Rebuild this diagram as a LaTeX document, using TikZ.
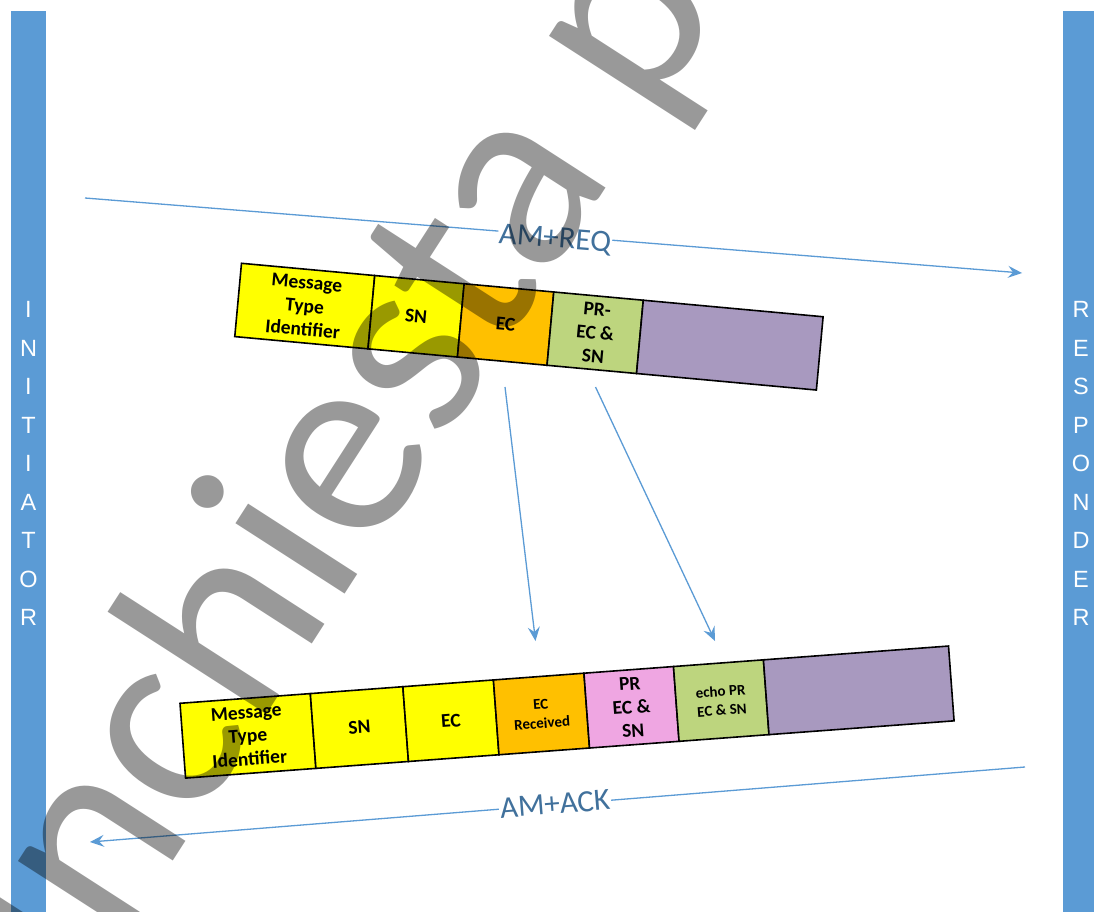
\documentclass[tikz,border=0pt]{standalone}
\usepackage{fontspec}
\setmainfont{Carlito}
\newfontfamily\sidefont{Liberation Sans}
\usetikzlibrary{arrows.meta}
\definecolor{barblue}{HTML}{5B9BD5}
\definecolor{lblblue}{HTML}{41719C}
\definecolor{cyellow}{HTML}{FFFF00}
\definecolor{corange}{HTML}{FFC000}
\definecolor{cgreen}{HTML}{BDD57E}
\definecolor{cpink}{HTML}{EFA6E2}
\definecolor{cpurple}{HTML}{A899BF}
\tikzset{
  cell/.style={draw=black, line width=1.6pt, inner sep=0pt, outer sep=0pt, anchor=north west, align=center,
    font=\bfseries\fontsize{19.5}{23.5}\selectfont},
  smallcell/.style={cell, font=\bfseries\fontsize{15}{19}\selectfont},
  bar/.style={fill=barblue, draw=none, inner sep=0pt, outer sep=0pt, anchor=north west},
  sidelbl/.style={text=white, align=center, inner sep=0pt, font=\sidefont\fontsize{23.5}{38.5}\selectfont},
  conn/.style={draw=barblue, line width=1.3pt, -{Stealth[length=14pt,width=12pt,inset=5pt]}},
  msglbl/.style={fill=white, inner xsep=1pt, inner ysep=0pt, text=lblblue, font=\fontsize{31}{36}\selectfont},
  wmark/.style={anchor=base west, inner sep=0pt, text=black, text opacity=0.4, font=\fontsize{272}{272}\selectfont}
}
\begin{document}
\begin{tikzpicture}[x=1pt,y=-1pt]
\useasboundingbox (0,0) rectangle (1094,912);
\fill[white] (0,0) rectangle (1094,912);

% lifelines
\node[bar, minimum width=35pt, minimum height=901pt] (initbar) at (11,11) {};
\node[bar, minimum width=31pt, minimum height=901pt] (respbar) at (1063,11) {};
\node[sidelbl] (initlbl) at (28.5,463.5) {I\\N\\I\\T\\I\\A\\T\\O\\R};
\node[sidelbl] (resplbl) at (1081,463.5) {R\\E\\S\\P\\O\\N\\D\\E\\R};

% request message
\coordinate (reqS) at (85,198);
\coordinate (reqE) at (1022,273);
\draw[conn] (reqS) -- (reqE);
\node[msglbl, rotate=-4.58] (req) at (555,239.5) {AM+REQ};

\begin{scope}[shift={(241.5,263.3)}, rotate=-5.25, transform shape]
  \node[cell, fill=cyellow, minimum width=133.8pt, minimum height=73.6pt] (q1) at (0,0) {Message\\Type\\Identifier};
  \node[cell, fill=cyellow, minimum width=89.8pt, minimum height=73.6pt] (q2) at (q1.north east) {SN};
  \node[cell, fill=corange, minimum width=90pt, minimum height=73.6pt] (q3) at (q2.north east) {EC};
  \node[cell, fill=cgreen, minimum width=89.9pt, minimum height=73.6pt] (q4) at (q3.north east) {PR-\\EC \&\\SN};
  \node[cell, fill=cpurple, minimum width=180.6pt, minimum height=73.6pt] (q5) at (q4.north east) {};
\end{scope}

% copy arrows
\coordinate (d1s) at (505,387);
\coordinate (d1e) at (535.5,641);
\coordinate (d2s) at (595.5,387);
\coordinate (d2e) at (715,641);
\draw[conn] (d1s) -- (d1e);
\draw[conn] (d2s) -- (d2e);

% acknowledgement message
\begin{scope}[shift={(180,703.3)}, rotate=4.26, transform shape]
  \node[cell, fill=cyellow, minimum width=130.7pt, minimum height=75pt] (a1) at (0,0) {Message\\Type\\Identifier};
  \node[cell, fill=cyellow, minimum width=92.8pt, minimum height=75pt] (a2) at (a1.north east) {SN};
  \node[cell, fill=cyellow, minimum width=90.8pt, minimum height=75pt] (a3) at (a2.north east) {EC};
  \node[smallcell, fill=corange, minimum width=90.8pt, minimum height=75pt] (a4) at (a3.north east) {EC\\Received};
  \node[cell, fill=cpink, minimum width=89.8pt, minimum height=75pt] (a5) at (a4.north east) {PR\\EC \&\\SN};
  \node[smallcell, fill=cgreen, minimum width=90.2pt, minimum height=75pt] (a6) at (a5.north east) {echo PR\\EC \& SN};
  \node[cell, fill=cpurple, minimum width=185.6pt, minimum height=75pt] (a7) at (a6.north east) {};
\end{scope}

\coordinate (ackS) at (1025,767);
\coordinate (ackE) at (90,842);
\draw[conn] (ackS) -- (ackE);
\node[msglbl, rotate=4.58] (ack) at (555,804) {AM+ACK};

% watermark
\begin{scope}
  \clip (0,0) rectangle (1094,912);
  \node[wmark, rotate=57.2] (wm) at (80,1005) {Inchiesta p};
\end{scope}
\end{tikzpicture}
\end{document}
